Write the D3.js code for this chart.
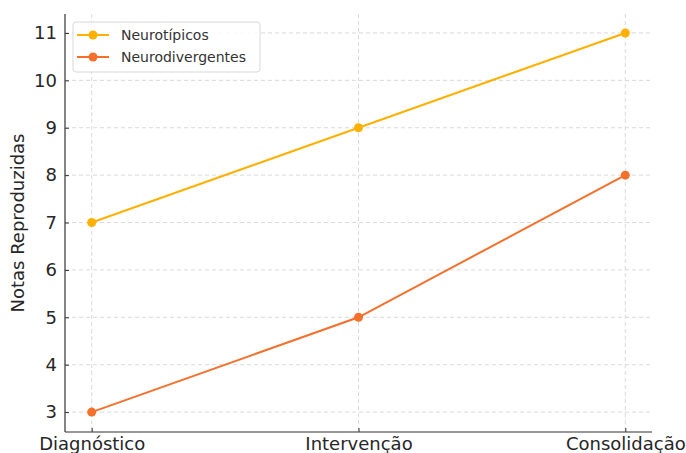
<!DOCTYPE html>
<html>
<head>
<meta charset="utf-8">
<script src="https://cdn.jsdelivr.net/npm/d3@7"></script>
<style>
  body { margin: 0; background: #fff; }
  svg text { font-family: "DejaVu Sans", sans-serif !important; }
  .grid line { stroke: #d0d0d0; stroke-dasharray: 4,3; stroke-width: 0.8; }
</style>
</head>
<body>
<script>
// data
const phases = ['Diagnóstico', 'Intervenção', 'Consolidação'];
const neurotipicos = [7, 9, 11];
const neurodivergentes = [3, 5, 8];
const yTicks = [3, 4, 5, 6, 7, 8, 9, 10, 11];
const seriesNames = ['Neurotípicos', 'Neurodivergentes'];
const colors = ['#FFB000', '#F4702B'];

const W = 686, H = 453;
const M = { left: 65, right: 34, top: 14, bottom: 21 };

const svg = d3.select('body').append('svg')
  .attr('width', W).attr('height', H);

// scales
const x = d3.scalePoint()
  .domain(phases)
  .range([M.left + 26.7, W - M.right - 26.7]);
const y = d3.scaleLinear()
  .domain([2.58, 11.4])
  .range([H - M.bottom, M.top]);

// grid
svg.append('g').attr('class', 'grid')
  .selectAll('line.h').data(yTicks).enter().append('line')
  .attr('x1', M.left).attr('x2', W - M.right)
  .attr('y1', d => y(d)).attr('y2', d => y(d));
svg.append('g').attr('class', 'grid')
  .selectAll('line.v').data(phases).enter().append('line')
  .attr('x1', d => x(d)).attr('x2', d => x(d))
  .attr('y1', M.top).attr('y2', H - M.bottom);

// axes
const xAxis = d3.axisBottom(x).tickSize(-4).tickPadding(5);
const yAxis = d3.axisLeft(y).tickValues(yTicks).tickSize(-4).tickPadding(8);

const gx = svg.append('g')
  .attr('transform', `translate(0, ${H - M.bottom})`)
  .call(xAxis);
gx.select('.domain').attr('d', `M${M.left},0H${W - M.right}`);
const gy = svg.append('g')
  .attr('transform', `translate(${M.left}, 0)`)
  .call(yAxis);
gy.select('.domain').attr('d', `M0,${M.top}V${H - M.bottom}`);

[gx, gy].forEach(g => {
  g.attr('font-family', null);
  g.select('.domain').attr('stroke', '#333').attr('stroke-width', 1.2);
  g.selectAll('.tick line').attr('stroke', '#333');
  g.selectAll('.tick text').attr('fill', '#262626').style('font-size', '18px');
});

// y label
svg.append('text')
  .attr('transform', `translate(24, ${(M.top + H - M.bottom) / 2}) rotate(-90)`)
  .attr('text-anchor', 'middle')
  .attr('fill', '#262626')
  .style('font-size', '18px')
  .text('Notas Reproduzidas');

// lines
const line = d3.line()
  .x((d, i) => x(phases[i]))
  .y(d => y(d));

[neurotipicos, neurodivergentes].forEach((vals, k) => {
  svg.append('path')
    .datum(vals)
    .attr('fill', 'none')
    .attr('stroke', colors[k])
    .attr('stroke-width', 2)
    .attr('d', line);
  svg.selectAll(null).data(vals).enter().append('circle')
    .attr('cx', (d, i) => x(phases[i]))
    .attr('cy', d => y(d))
    .attr('r', 4.5)
    .attr('fill', colors[k]);
});

// legend
const lg = svg.append('g').attr('transform', 'translate(73, 22)');
lg.append('rect')
  .attr('width', 187).attr('height', 50).attr('rx', 3)
  .attr('fill', 'white').attr('fill-opacity', 0.8)
  .attr('stroke', '#d8d8d8');
seriesNames.forEach((name, k) => {
  const yy = 13 + k * 22;
  lg.append('line')
    .attr('x1', 4).attr('x2', 36).attr('y1', yy).attr('y2', yy)
    .attr('stroke', colors[k]).attr('stroke-width', 2);
  lg.append('circle').attr('cx', 20).attr('cy', yy).attr('r', 4.5).attr('fill', colors[k]);
  lg.append('text')
    .attr('x', 48).attr('y', yy).attr('dy', '0.35em')
    .attr('fill', '#333')
    .style('font-size', '14px')
    .text(name);
});
</script>
</body>
</html>
